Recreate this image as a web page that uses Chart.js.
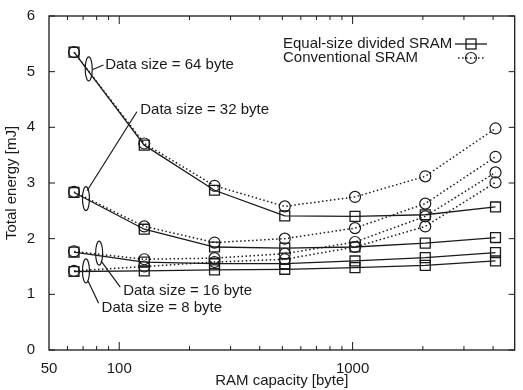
<!doctype html>
<html lang="en">
  <head>
    <meta charset="UTF-8" />
    <title>Total energy vs RAM capacity</title>
    <style>
      body {
        margin: 0;
        background: white;
      }
      #chart {
        display: block;
      }
    </style>
  </head>
  <body>
    <canvas id="chart" width="523" height="390"></canvas>

    <script src="https://cdn.jsdelivr.net/npm/chart.js"></script>
    <script>
      // RAM capacity [byte]
      var capacities = [64, 128, 256, 512, 1024, 2048, 4096];

      // Equal-size divided SRAM (solid, squares)
      var divided64 = [5.35, 3.68, 2.87, 2.41, 2.40, 2.43, 2.57];
      var divided32 = [2.83, 2.17, 1.85, 1.83, 1.85, 1.92, 2.02];
      var divided16 = [1.76, 1.58, 1.55, 1.55, 1.60, 1.66, 1.75];
      var divided8 = [1.41, 1.42, 1.44, 1.45, 1.48, 1.52, 1.60];

      // Conventional SRAM (dotted, circles)
      var conv64 = [5.35, 3.71, 2.95, 2.58, 2.75, 3.12, 3.98];
      var conv32 = [2.84, 2.22, 1.93, 2.00, 2.19, 2.63, 3.47];
      var conv16 = [1.77, 1.63, 1.65, 1.73, 1.94, 2.40, 3.19];
      var conv8 = [1.42, 1.50, 1.58, 1.63, 1.85, 2.22, 3.01];

      var xTickLabels = [50, 100, 1000];
      var xMinorTicks = [60, 70, 80, 90, 200, 300, 400, 500, 600, 700, 800, 900, 2000, 3000, 4000];
      var xMajorTicks = [100, 1000];
      var yTicks = [0, 1, 2, 3, 4, 5, 6];

      var legendLabels = ["Equal-size divided SRAM", "Conventional SRAM"];

      // ellipse + leader line callouts, in data units
      var callouts = [
        { text: "Data size = 64 byte", ellipse: [74, 5.05], from: [77, 5.04], to: [85.6, 5.12], label: [87, 5.12] },
        { text: "Data size = 32 byte", ellipse: [72, 2.72], from: [72.8, 2.86], to: [119, 4.28], label: [123, 4.31] },
        { text: "Data size = 16 byte", ellipse: [82, 1.74], from: [83.5, 1.60], to: [101, 1.13], label: [104, 1.06] },
        { text: "Data size = 8 byte", ellipse: [72, 1.42], from: [73.5, 1.24], to: [81.6, 0.84], label: [84, 0.75] }
      ];

      var FONT = "'Liberation Sans', Arial, sans-serif";
      var INK = "#1a1a1a";

      function pts(values) {
        return values.map(function (v, i) {
          return { x: capacities[i], y: v };
        });
      }

      function solid(values) {
        return {
          data: pts(values),
          borderColor: INK,
          borderWidth: 1.3,
          pointStyle: "rect",
          pointRadius: 7,
          pointBorderWidth: 1.3,
          pointBorderColor: INK,
          pointBackgroundColor: "rgba(0,0,0,0)"
        };
      }

      function dotted(values) {
        return {
          data: pts(values),
          borderColor: INK,
          borderWidth: 1.5,
          borderDash: [1.5, 2.5],
          pointStyle: "circle",
          pointRadius: 5.5,
          pointBorderWidth: 1.2,
          pointBorderColor: INK,
          pointBackgroundColor: "rgba(0,0,0,0)"
        };
      }

      // frame, inward ticks, callouts and legend
      var decorations = {
        id: "decorations",
        afterDraw: function (chart) {
          var ctx = chart.ctx;
          var a = chart.chartArea;
          var xs = chart.scales.x;
          var ys = chart.scales.y;
          ctx.save();
          ctx.strokeStyle = INK;
          ctx.fillStyle = INK;
          ctx.lineWidth = 1.3;
          ctx.setLineDash([]);

          ctx.strokeRect(a.left, a.top, a.right - a.left, a.bottom - a.top);

          ctx.lineWidth = 1;
          ctx.beginPath();
          xMinorTicks.forEach(function (v) {
            var px = xs.getPixelForValue(v);
            ctx.moveTo(px, a.bottom); ctx.lineTo(px, a.bottom - 4);
            ctx.moveTo(px, a.top); ctx.lineTo(px, a.top + 4);
          });
          xMajorTicks.forEach(function (v) {
            var px = xs.getPixelForValue(v);
            ctx.moveTo(px, a.bottom); ctx.lineTo(px, a.bottom - 8);
            ctx.moveTo(px, a.top); ctx.lineTo(px, a.top + 8);
          });
          yTicks.forEach(function (v) {
            var py = ys.getPixelForValue(v);
            ctx.moveTo(a.left, py); ctx.lineTo(a.left + 6, py);
            ctx.moveTo(a.right, py); ctx.lineTo(a.right - 6, py);
          });
          ctx.stroke();

          // callouts
          ctx.font = "15px " + FONT;
          ctx.textBaseline = "middle";
          ctx.textAlign = "left";
          ctx.lineWidth = 1.2;
          callouts.forEach(function (c) {
            ctx.beginPath();
            ctx.ellipse(xs.getPixelForValue(c.ellipse[0]), ys.getPixelForValue(c.ellipse[1]), 3.5, 12, 0, 0, Math.PI * 2);
            ctx.stroke();
            ctx.beginPath();
            ctx.moveTo(xs.getPixelForValue(c.from[0]), ys.getPixelForValue(c.from[1]));
            ctx.lineTo(xs.getPixelForValue(c.to[0]), ys.getPixelForValue(c.to[1]));
            ctx.stroke();
            ctx.fillText(c.text, xs.getPixelForValue(c.label[0]), ys.getPixelForValue(c.label[1]));
          });

          // legend
          var lx = 283, ly = 44, gap = 14;
          ctx.fillText(legendLabels[0], lx, ly);
          ctx.fillText(legendLabels[1], lx, ly + gap);
          ctx.lineWidth = 1.3;
          ctx.beginPath();
          ctx.moveTo(455, ly); ctx.lineTo(487, ly);
          ctx.stroke();
          ctx.strokeRect(466, ly - 5, 10, 10);
          ctx.setLineDash([1.5, 2.5]);
          ctx.lineWidth = 1.5;
          ctx.beginPath();
          ctx.moveTo(458, ly + gap); ctx.lineTo(486, ly + gap);
          ctx.stroke();
          ctx.setLineDash([]);
          ctx.lineWidth = 1.2;
          ctx.beginPath();
          ctx.arc(471, ly + gap, 5.5, 0, Math.PI * 2);
          ctx.stroke();
          ctx.restore();
        }
      };

      var ctx = document.getElementById("chart").getContext("2d");
      var chart = new Chart(ctx, {
        type: "line",
        data: {
          datasets: [
            solid(divided64), dotted(conv64),
            solid(divided32), dotted(conv32),
            solid(divided16), dotted(conv16),
            solid(divided8), dotted(conv8)
          ]
        },
        options: {
          responsive: false,
          animation: false,
          devicePixelRatio: 1,
          layout: { padding: { top: 16, right: 1, left: 0, bottom: 0 } },
          plugins: { legend: { display: false }, tooltip: { enabled: false } },
          scales: {
            x: {
              type: "logarithmic",
              min: 50,
              max: 4950,
              afterBuildTicks: function (s) {
                s.ticks = xTickLabels.map(function (v) { return { value: v }; });
              },
              afterFit: function (s) { s.height = 40; },
              grid: { display: false },
              border: { display: false },
              ticks: {
                color: INK,
                padding: 2,
                maxRotation: 0,
                autoSkip: false,
                font: { family: FONT, size: 15 },
                callback: function (v) { return String(v); }
              },
              title: {
                display: true,
                text: "RAM capacity [byte]",
                color: INK,
                padding: 0,
                font: { family: FONT, size: 15 }
              }
            },
            y: {
              min: 0,
              max: 6,
              afterFit: function (s) { s.width = 49; },
              grid: { display: false },
              border: { display: false },
              ticks: {
                stepSize: 1,
                color: INK,
                padding: 6,
                font: { family: FONT, size: 15 }
              },
              title: {
                display: true,
                text: "Total energy [mJ]",
                color: INK,
                padding: { top: 3, bottom: 0 },
                font: { family: FONT, size: 15 }
              }
            }
          }
        },
        plugins: [decorations]
      });
    </script>
  </body>
</html>
